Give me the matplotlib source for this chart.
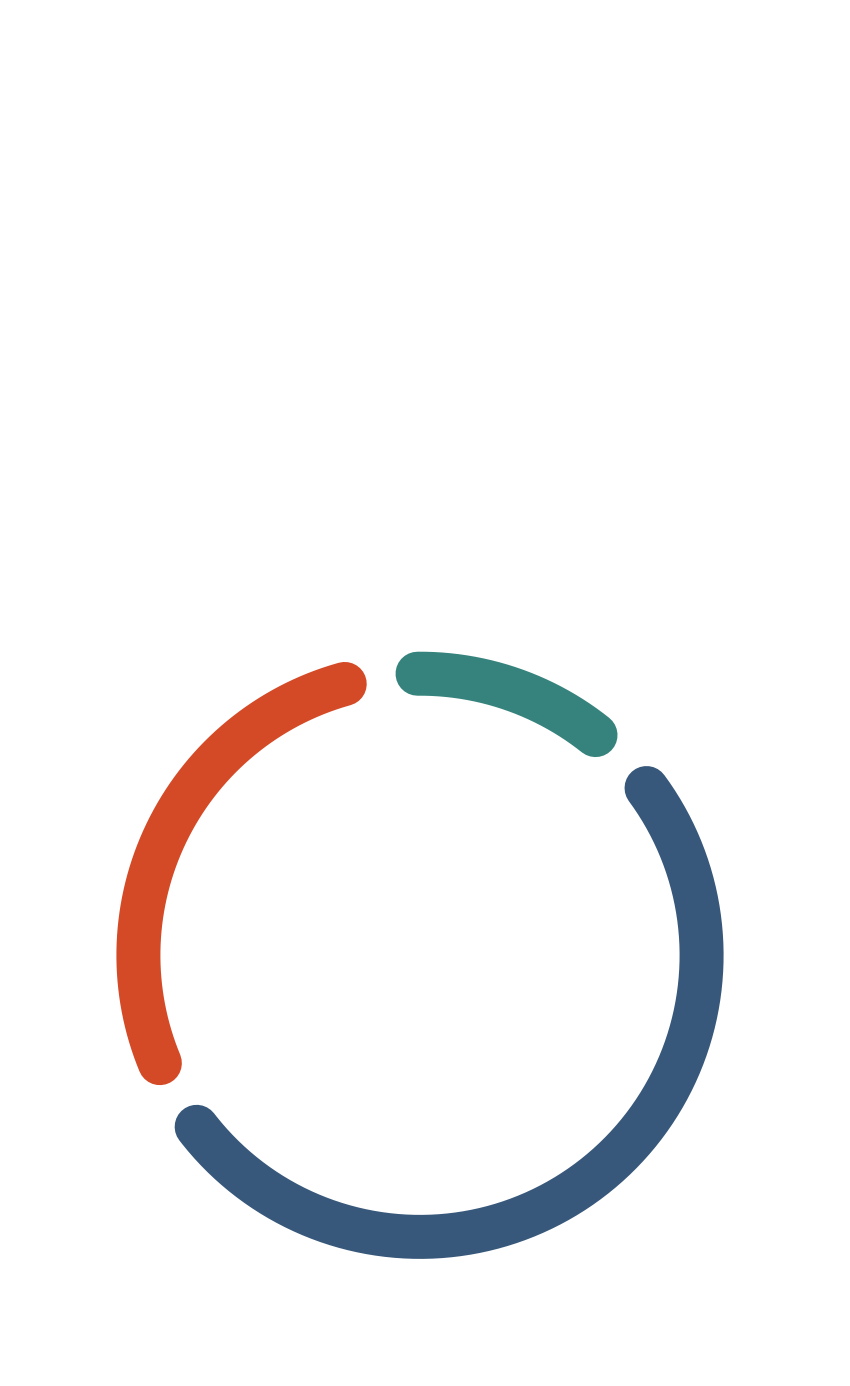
#!/usr/bin/env python3
"""Donut à segments arrondis — trois catégories."""

import numpy as np
import matplotlib
matplotlib.use("Agg")
import matplotlib.pyplot as plt

# Données (parts en %)
labels = ["A", "B", "C"]
values = [12.4, 56.8, 30.8]
colors = ["#36837d", "#37587a", "#d44a27"]

START_DEG = -0.5      # début du premier segment (0 = en haut, sens horaire)
GAP_DEG = 15.0        # espace entre segments
W, H = 850, 1386
DPI = 100
CX, CY = 420, 955.3   # centre en pixels (origine en haut à gauche)
R_MID = 281.6
STROKE_PX = 44
BOX = 330

fig = plt.figure(figsize=(W / DPI, H / DPI), dpi=DPI)
fig.patch.set_facecolor("white")
ax = fig.add_axes([(CX - BOX) / W, (H - CY - BOX) / H, 2 * BOX / W, 2 * BOX / H],
                  projection="polar")
ax.set_theta_zero_location("N")
ax.set_theta_direction(-1)
ax.set_rlim(0, BOX)
ax.axis("off")

span = 360.0 - GAP_DEG * len(values)
total = sum(values)
angle = START_DEG
for lab, val, col in zip(labels, values, colors):
    arc = val / total * span
    theta = np.radians(np.linspace(angle, angle + arc, 200))
    ax.plot(theta, np.full_like(theta, R_MID), color=col,
            linewidth=STROKE_PX * 72 / DPI, solid_capstyle="round", label=lab)
    angle += arc + GAP_DEG

fig.savefig("out.png", dpi=DPI, facecolor="white")
plt.close(fig)
